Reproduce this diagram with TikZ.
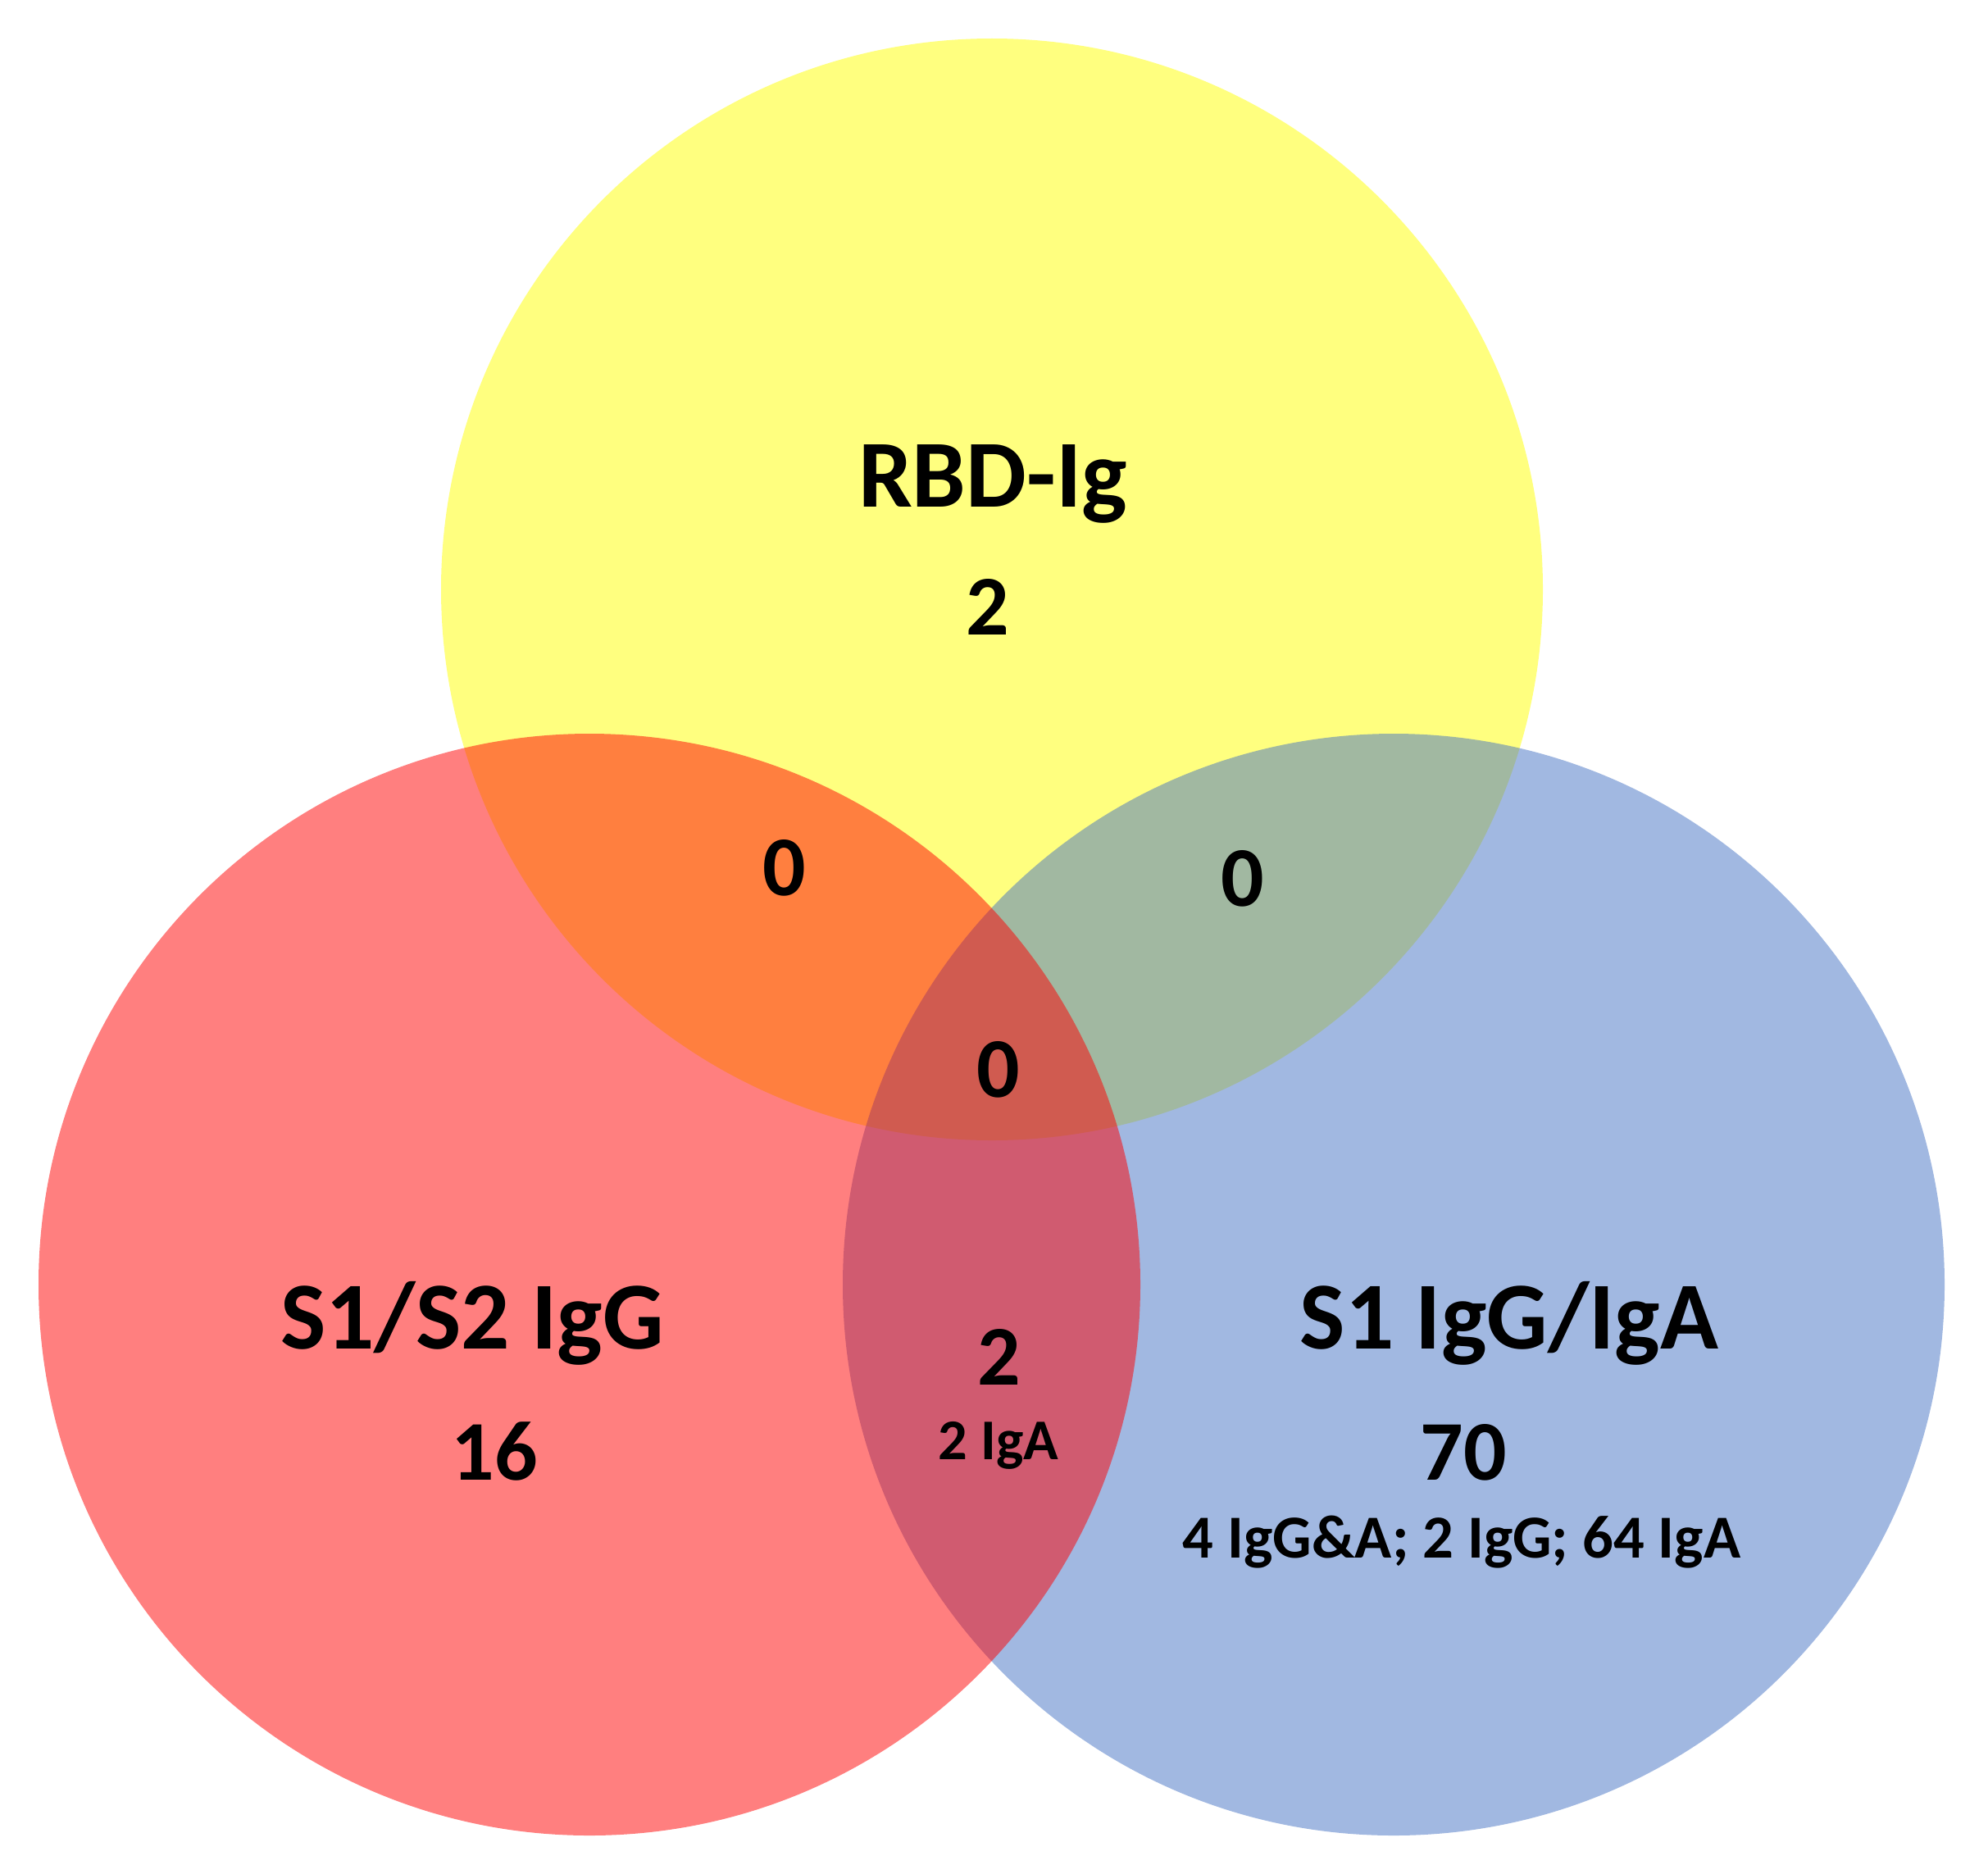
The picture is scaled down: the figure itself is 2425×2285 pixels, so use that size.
\documentclass[tikz,border=0pt]{standalone}
\usepackage{fontspec}
\setmainfont{Carlito}
\definecolor{vyellow}{HTML}{FFFF00}
\definecolor{vred}{HTML}{FF0000}
\definecolor{vblue}{HTML}{4472C4}
\begin{document}
\begin{tikzpicture}[x=0.01cm,y=-0.01cm,
  setfill/.style={fill=#1,fill opacity=0.5},
  biglabel/.style={anchor=base,inner sep=0,font=\fontsize{33.3}{40}\selectfont\bfseries},
  numlabel/.style={anchor=base,inner sep=0,font=\fontsize{29.5}{36}\selectfont\bfseries},
  sublabel/.style={anchor=base,inner sep=0,font=\fontsize{21.2}{26}\selectfont\bfseries},
  smalllabel/.style={anchor=base,inner sep=0,font=\fontsize{20}{24}\selectfont\bfseries}]
\useasboundingbox (0,0) rectangle (2425,2285);
\fill[white] (0,0) rectangle (2425,2285);
% circles: yellow, then blue, then red
\fill[setfill=vyellow] (1210,719) circle[radius=672];
\fill[setfill=vblue] (1700,1567) circle[radius=672];
\fill[setfill=vred] (719,1567) circle[radius=672];
% labels
\node[biglabel] (rbd) at (1211,618) {RBD-Ig};
\node[numlabel] (rbdn) at (1205,774) {2};
\node[biglabel] (s12) at (576,1645) {S1/S2 IgG};
\node[numlabel] (s12n) at (603,1805) {16};
\node[biglabel] (s1) at (1841,1645) {S1 IgG/IgA};
\node[numlabel] (s1n) at (1785,1805) {70};
\node[sublabel] (s1s) at (1783,1900) {4 IgG\&A; 2 IgG; 64 IgA};
\node[numlabel] (ry) at (957,1092) {0};
\node[numlabel] (yb) at (1516,1105) {0};
\node[numlabel] (ryb) at (1218,1338) {0};
\node[numlabel] (rb) at (1219,1689) {2};
\node[smalllabel] (rbs) at (1218,1780) {2 IgA};
\end{tikzpicture}
\end{document}
